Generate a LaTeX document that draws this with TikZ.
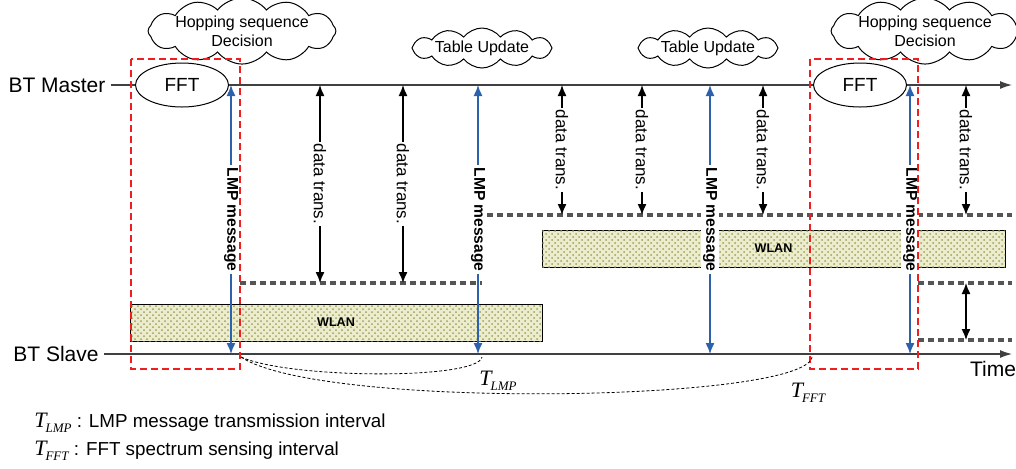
\documentclass[tikz,border=0pt]{standalone}
\usepackage{fontspec}
\setmainfont{Liberation Sans}
\newfontfamily\tfont{Liberation Serif}
\usepackage{tikz}
\usetikzlibrary{arrows.meta,shapes,positioning,patterns}
\usepackage{xcolor}
\definecolor{lmpblue}{RGB}{44,98,172}
\definecolor{fftred}{RGB}{240,30,30}
\definecolor{slotgray}{RGB}{85,85,85}
\definecolor{wlanbg}{RGB}{236,236,206}
\definecolor{wlandot}{RGB}{160,160,90}
\tikzstyle{timeline} = [line width=0.6pt,color=black!75,-{Latex[length=6pt,width=4pt]}]
\tikzstyle{lmp} = [line width=0.7pt,lmpblue,{Latex[length=5.5pt,width=4.5pt]}-{Latex[length=5.5pt,width=4.5pt]}]
\tikzstyle{data} = [line width=0.7pt,black,{Latex[length=5.5pt,width=4.5pt]}-{Latex[length=5.5pt,width=4.5pt]}]
\tikzstyle{slot} = [line width=1.6pt,slotgray,dash pattern=on 3pt off 2pt]
\tikzstyle{wlan} = [draw=black,line width=0.5pt,fill=wlanbg,postaction={pattern=crosshatch dots,pattern color=wlandot}]
\tikzstyle{fftbox} = [line width=0.75pt,fftred,dash pattern=on 3.5pt off 2pt]
\tikzstyle{interval} = [line width=0.4pt,black,dash pattern=on 1.5pt off 1pt]
\tikzstyle{bubble} = [cloud,cloud puffs=12,cloud puff arc=105,cloud ignores aspect,draw,fill=white,line width=0.5pt,align=center,inner sep=0pt]
\newcommand{\Tsub}[1]{{\tfont\itshape\fontsize{11}{12}\selectfont T\kern-0.05em\raisebox{-0.5ex}{\fontsize{6.5}{7}\selectfont #1}}}

\begin{document}
\begin{tikzpicture}[x=0.5pt,y=-0.5pt]
\useasboundingbox (0,0) rectangle (1016,468);

% WLAN occupancy
\node[wlan, minimum width=206pt, minimum height=18.5pt, inner sep=0pt] (wlanA) at (336,322.5) {};
\node[font=\bfseries\fontsize{6.3}{7}\selectfont] at (wlanA) {WLAN};
\node[wlan, minimum width=231.5pt, minimum height=18.5pt, inner sep=0pt] (wlanB) at (773.5,248.5) {};
\node[font=\bfseries\fontsize{6.3}{7}\selectfont] at (wlanB) {WLAN};

% slot borders
\coordinate (slotA1) at (240,283);  \coordinate (slotA2) at (482,283);
\coordinate (slotB1) at (487,215);  \coordinate (slotB2) at (1012,215);
\coordinate (slotC1) at (918,283);  \coordinate (slotC2) at (1012,283);
\coordinate (slotD1) at (918,340);  \coordinate (slotD2) at (1012,340);
\draw[slot] (slotA1) -- (slotA2);
\draw[slot] (slotB1) -- (slotB2);
\draw[slot] (slotC1) -- (slotC2);
\draw[slot] (slotD1) -- (slotD2);

% time lines
\node[font=\fontsize{10.5}{12}\selectfont, inner sep=2.5pt] (master) at (57,85) {BT Master};
\node[font=\fontsize{10.5}{12}\selectfont, inner sep=2.5pt] (slave) at (56,354) {BT Slave};
\coordinate (masterend) at (1012,85);
\coordinate (slaveend) at (1012,354);
\draw[timeline] (master.east) -- (masterend);
\draw[timeline] (slave.east) -- (slaveend);
\node[font=\fontsize{10.5}{12}\selectfont] (time) at (993,369) {Time};

% clouds and FFT
\node[bubble, minimum width=90pt, minimum height=29pt, font=\fontsize{8}{9.5}\selectfont] (hopA) at (242,31) {Hopping sequence\\Decision};
\node[bubble, minimum width=90pt, minimum height=29pt, font=\fontsize{8}{9.5}\selectfont] (hopB) at (925,31) {Hopping sequence\\Decision};
\node[bubble, minimum width=70pt, minimum height=20pt, font=\fontsize{8}{9.5}\selectfont] (tabA) at (482,48) {Table Update};
\node[bubble, minimum width=70pt, minimum height=20pt, font=\fontsize{8}{9.5}\selectfont] (tabB) at (708,48) {Table Update};
\node[ellipse, draw, fill=white, line width=0.5pt, minimum width=46.5pt, minimum height=22pt, inner sep=0pt, font=\fontsize{9.5}{11}\selectfont] (fftA) at (182,85) {FFT};
\node[ellipse, draw, fill=white, line width=0.5pt, minimum width=46.5pt, minimum height=22pt, inner sep=0pt, font=\fontsize{9.5}{11}\selectfont] (fftB) at (860,85) {FFT};

% LMP messages
\foreach \i/\x in {1/231,2/478,3/710,4/910}{
  \coordinate (lmpm\i) at (\x,85);
  \coordinate (lmps\i) at (\x,354);
  \draw[lmp] (lmps\i) -- (lmpm\i) node[midway, rotate=-90, fill=white, inner sep=1pt, text=black, font=\bfseries\fontsize{7.8}{9}\selectfont] {LMP message};
}

% data transmissions
\foreach \i/\x/\y in {1/320/283,2/403/283,3/562/215,4/642/215,5/763/215,6/966/215}{
  \coordinate (datm\i) at (\x,85);
  \coordinate (dats\i) at (\x,\y);
  \draw[data] (datm\i) -- (dats\i) node[midway, rotate=-90, fill=white, inner sep=1pt, font=\fontsize{8.5}{10}\selectfont] {data trans.};
}
\coordinate (gapC) at (966,283);
\coordinate (gapD) at (966,340);
\draw[data] (gapC) -- (gapD);

% FFT windows
\draw[fftbox] (131,59) rectangle (240,369);
\draw[fftbox] (810,59) rectangle (918,369);

% intervals
\coordinate (tstart) at (241,357);
\coordinate (tlmp) at (482,357);
\coordinate (tfft) at (812,357);
\draw[interval] (tstart) .. controls (290,379) and (478,380) .. (tlmp);
\draw[interval] (tstart) .. controls (320,410) and (805,402) .. (tfft);
\node (lablmp) at (498,381) {\Tsub{LMP}};
\node (labfft) at (808,393) {\Tsub{FFT}};

% legend
\node[anchor=west, inner sep=0pt, font=\fontsize{9.4}{11}\selectfont] (legA) at (34,423) {\Tsub{LMP} : LMP message transmission interval};
\node[anchor=west, inner sep=0pt, font=\fontsize{9.4}{11}\selectfont] (legB) at (34,451) {\Tsub{FFT} : FFT spectrum sensing interval};
\end{tikzpicture}
\end{document}
